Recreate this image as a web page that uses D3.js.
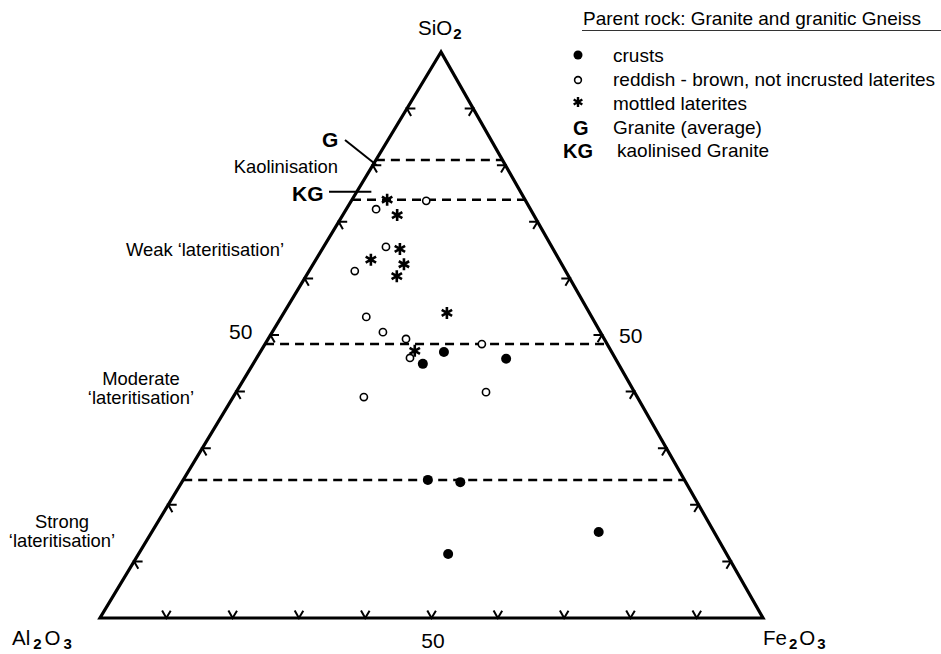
<!DOCTYPE html>
<html>
<head>
<meta charset="utf-8">
<script src="https://cdn.jsdelivr.net/npm/d3@7"></script>
<style>
  body { margin: 0; background: #fff; }
  svg text { font-family: "Liberation Sans", Arial, Helvetica, sans-serif; fill: #000; }
</style>
</head>
<body>
<div id="chart"></div>
<script>
// ternary compositions, [SiO2, Al2O3, Fe2O3] in %
const crusts = [
  [44.9, 29.5, 25.6], [47.0, 25.3, 27.7], [45.8, 16.5, 37.7],
  [24.4, 38.7, 36.9], [24.0, 34.0, 42.0], [11.3, 42.0, 46.7],
  [15.2, 17.4, 67.4]
];
const reddishBrown = [
  [73.7, 15.0, 11.3], [72.3, 23.3, 4.5], [65.5, 25.0, 9.4],
  [61.3, 31.8, 6.9], [53.2, 34.0, 12.8], [50.5, 32.8, 16.7],
  [49.3, 29.9, 20.8], [45.9, 30.9, 23.1], [48.4, 18.9, 32.7],
  [39.0, 41.2, 19.7], [39.9, 22.4, 37.7]
];
const mottled = [
  [73.9, 20.8, 5.3], [71.2, 20.6, 8.2], [65.2, 23.1, 11.7],
  [63.3, 28.4, 8.3], [62.5, 23.8, 13.7], [60.4, 25.9, 13.7],
  [53.9, 21.5, 24.6], [47.2, 29.6, 23.2]
];
const granite = [80.0, 19.4, 0.6];
const kaolGranite = [75.3, 22.5, 2.2];

// SiO2 levels of the zone boundaries
const zoneLevels = [80.9, 73.9, 48.4, 24.4];
const tickValues = [10, 20, 30, 40, 50, 60, 70, 80, 90];

const legendTitle = "Parent rock: Granite and granitic Gneiss";
const legendItems = ["crusts", "reddish - brown, not incrusted laterites", "mottled laterites"];

const width = 941, height = 654;
const svg = d3.select("#chart").append("svg")
  .attr("width", width).attr("height", height);

// SiO2 sets the height, Fe2O3 the shift to the right
const siY = d3.scaleLinear().domain([0, 100]).range([618, 52]);
const siX = d3.scaleLinear().domain([0, 100]).range([100, 441]);
const feX = d3.scaleLinear().domain([0, 100]).range([0, 663]);

function proj(d) {
  const s = d[0] + d[1] + d[2];
  const si = d[0] * 100 / s, fe = d[2] * 100 / s;
  return [siX(si) + feX(fe), siY(si)];
}

const vTop = proj([100, 0, 0]), vLeft = proj([0, 100, 0]), vRight = proj([0, 0, 100]);

function unit(a, b) {
  const dx = b[0] - a[0], dy = b[1] - a[1], l = Math.hypot(dx, dy);
  return [dx / l, dy / l];
}

// ticks
const L = 8.5;
const tickDefs = [];
tickValues.forEach(t => {
  tickDefs.push({ p: proj([0, 100 - t, t]), u1: unit(vLeft, vTop), u2: unit(vRight, vTop) });
  tickDefs.push({ p: proj([t, 100 - t, 0]), u1: unit(vLeft, vRight), u2: unit(vTop, vRight) });
  tickDefs.push({ p: proj([t, 0, 100 - t]), u1: unit(vRight, vLeft), u2: unit(vTop, vLeft) });
});

svg.append("g")
  .selectAll("path")
  .data(tickDefs)
  .join("path")
  .attr("d", d => `M${d.p[0] + d.u1[0] * L},${d.p[1] + d.u1[1] * L}L${d.p[0]},${d.p[1]}L${d.p[0] + d.u2[0] * L},${d.p[1] + d.u2[1] * L}`)
  .attr("fill", "none")
  .attr("stroke", "#000")
  .attr("stroke-width", 2);

// zone boundaries
svg.append("g")
  .selectAll("line")
  .data(zoneLevels)
  .join("line")
  .attr("x1", v => proj([v, 100 - v, 0])[0])
  .attr("y1", v => proj([v, 100 - v, 0])[1])
  .attr("x2", v => proj([v, 0, 100 - v])[0])
  .attr("y2", v => proj([v, 0, 100 - v])[1])
  .attr("stroke", "#000")
  .attr("stroke-width", 2.5)
  .attr("stroke-dasharray", "9,6");

// triangle
svg.append("path")
  .attr("d", d3.line()([vTop, vLeft, vRight]) + "Z")
  .attr("fill", "none")
  .attr("stroke", "#000")
  .attr("stroke-width", 3.2)
  .attr("stroke-linejoin", "miter");

// asterisk marker
function star(r) {
  let s = "";
  [90, 30, 150].forEach(a => {
    const c = Math.cos(a * Math.PI / 180) * r, n = Math.sin(a * Math.PI / 180) * r;
    s += `M${-c},${-n}L${c},${n}`;
  });
  return s;
}

// points
svg.append("g")
  .selectAll("circle")
  .data(crusts)
  .join("circle")
  .attr("cx", d => proj(d)[0])
  .attr("cy", d => proj(d)[1])
  .attr("r", 5)
  .attr("fill", "#000");

svg.append("g")
  .selectAll("circle")
  .data(reddishBrown)
  .join("circle")
  .attr("cx", d => proj(d)[0])
  .attr("cy", d => proj(d)[1])
  .attr("r", 3.6)
  .attr("fill", "#fff")
  .attr("stroke", "#000")
  .attr("stroke-width", 1.6);

svg.append("g")
  .selectAll("path")
  .data(mottled)
  .join("path")
  .attr("transform", d => `translate(${proj(d)})`)
  .attr("d", star(6))
  .attr("stroke", "#000")
  .attr("stroke-width", 2.6);

// G and KG with leaders
const gP = proj(granite), kgP = proj(kaolGranite);
svg.append("line").attr("x1", 345).attr("y1", 140).attr("x2", gP[0]).attr("y2", gP[1])
  .attr("stroke", "#000").attr("stroke-width", 2);
svg.append("line").attr("x1", 329).attr("y1", kgP[1]).attr("x2", kgP[0]).attr("y2", kgP[1])
  .attr("stroke", "#000").attr("stroke-width", 2);
svg.append("text").attr("x", 322).attr("y", 147).attr("font-size", 21).attr("font-weight", "bold").text("G");
svg.append("text").attr("x", 292).attr("y", 201).attr("font-size", 21).attr("font-weight", "bold").text("KG");

// zone labels
const zl = svg.append("g").attr("font-size", 18.4);
zl.append("text").attr("x", 338).attr("y", 173).attr("text-anchor", "end").text("Kaolinisation");
zl.append("text").attr("x", 284).attr("y", 256).attr("text-anchor", "end").text("Weak \u2018lateritisation\u2019");
zl.append("text").attr("x", 141).attr("y", 385).attr("text-anchor", "middle").text("Moderate");
zl.append("text").attr("x", 141).attr("y", 404).attr("text-anchor", "middle").text("\u2018lateritisation\u2019");
zl.append("text").attr("x", 62).attr("y", 528).attr("text-anchor", "middle").text("Strong");
zl.append("text").attr("x", 62).attr("y", 547).attr("text-anchor", "middle").text("\u2018lateritisation\u2019");

// axis value labels
const ax = svg.append("g").attr("font-size", 21);
ax.append("text").attr("x", 433).attr("y", 648).attr("text-anchor", "middle").text("50");
ax.append("text").attr("x", 229).attr("y", 339).text("50");
ax.append("text").attr("x", 619).attr("y", 343).text("50");

// vertex labels with subscripts
function formula(x, y, parts, gap) {
  const t = svg.append("text").attr("x", x).attr("y", y).attr("font-size", 20.5);
  parts.forEach(p => {
    if (p.sub) {
      t.append("tspan").attr("dx", gap).attr("dy", 4).attr("font-size", 15).attr("font-weight", "bold").text(p.s);
    } else {
      t.append("tspan").attr("dx", p.first ? 0 : gap).attr("dy", p.first ? 0 : -4).text(p.s);
    }
  });
  return t;
}
formula(418, 35, [{ s: "SiO", first: true }, { s: "2", sub: true }], 1);
formula(12, 645, [{ s: "Al", first: true }, { s: "2", sub: true }, { s: "O" }, { s: "3", sub: true }], 3);
formula(763, 645, [{ s: "Fe", first: true }, { s: "2", sub: true }, { s: "O" }, { s: "3", sub: true }], 2);

// legend
const lg = svg.append("g").attr("font-size", 19);
lg.append("text").attr("x", 583).attr("y", 25).text(legendTitle);
lg.append("line").attr("x1", 582).attr("x2", 941).attr("y1", 30.5).attr("y2", 30.5)
  .attr("stroke", "#333").attr("stroke-width", 1.2);
legendItems.forEach((name, i) => {
  lg.append("text").attr("x", 613).attr("y", 62 + i * 24).text(name);
});
lg.append("circle").attr("cx", 578).attr("cy", 55).attr("r", 4.5).attr("fill", "#000");
lg.append("circle").attr("cx", 578).attr("cy", 80).attr("r", 3.4).attr("fill", "#fff")
  .attr("stroke", "#000").attr("stroke-width", 1.6);
lg.append("path").attr("transform", "translate(578,102)").attr("d", star(5))
  .attr("stroke", "#000").attr("stroke-width", 2.4);
lg.append("text").attr("x", 573).attr("y", 135).attr("font-weight", "bold").attr("font-size", 20).text("G");
lg.append("text").attr("x", 613).attr("y", 134).text("Granite (average)");
lg.append("text").attr("x", 563).attr("y", 158).attr("font-weight", "bold").attr("font-size", 20).text("KG");
lg.append("text").attr("x", 617).attr("y", 157).text("kaolinised Granite");
</script>
</body>
</html>
